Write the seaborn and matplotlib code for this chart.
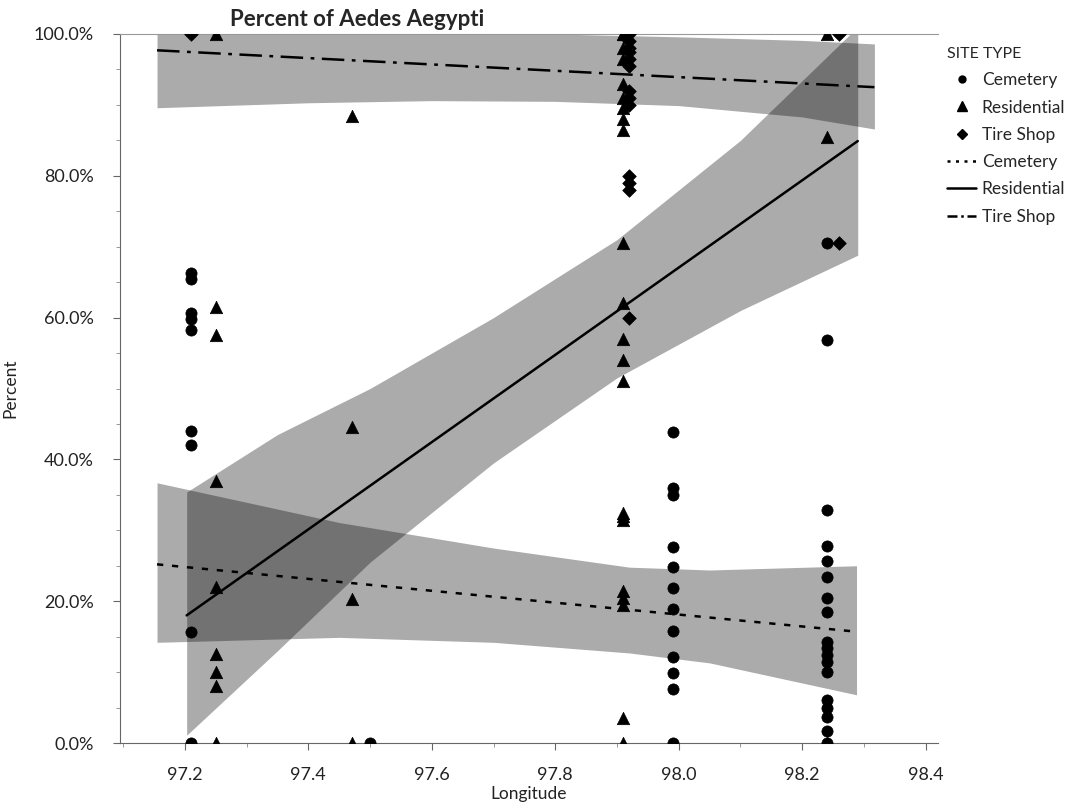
import matplotlib
matplotlib.use("Agg")
import matplotlib.pyplot as plt
from matplotlib.lines import Line2D
from matplotlib.ticker import MultipleLocator, FuncFormatter
import pandas as pd
import seaborn as sns

# --- scatter data ---
cem_lon = [97.21] * 9 + [97.5] + [97.99] * 12 + [98.24] * 18
cem_pct = [66.3, 65.5, 60.6, 59.8, 58.2, 44.0, 42.0, 15.7, 0.0,
           0.0,
           43.9, 36.0, 35.0, 27.6, 24.8, 21.9, 18.9, 15.8, 12.1, 9.9, 7.6, 0.0,
           70.5, 56.8, 32.8, 27.8, 25.7, 23.4, 20.5, 18.5, 14.2, 13.4, 12.4,
           11.4, 10.0, 6.1, 4.9, 3.7, 1.7, 0.0]

res_lon = [97.25] * 9 + [97.47] * 4 + [97.91] * 22 + [98.24] * 3
res_pct = [100.0, 61.5, 57.5, 37.0, 22.0, 12.5, 10.0, 8.0, 0.0,
           88.5, 44.5, 20.3, 0.0,
           100.0, 100.0, 98.0, 96.5, 93.0, 91.0, 89.5, 88.0, 86.5, 70.5, 62.0,
           57.0, 54.0, 51.0, 32.5, 32.0, 31.5, 21.5, 20.5, 19.5, 3.5, 0.0,
           100.0, 85.5, 0.0]

tire_lon = [97.21] + [97.92] * 13 + [98.26] * 2
tire_pct = [100.0,
            100.0, 99.0, 98.0, 97.5, 96.5, 95.5, 92.0, 91.0, 90.0, 80.0, 79.0, 78.0, 60.0,
            100.0, 70.5]

# --- fitted lines and confidence bands ---
cem_fit_x = [97.155, 98.288]
cem_fit_y = [25.2, 15.7]
res_fit_x = [97.203, 98.29]
res_fit_y = [18.0, 84.9]
tire_fit_x = [97.155, 98.317]
tire_fit_y = [97.7, 92.5]

cem_band_x = [97.155, 97.45, 97.7, 97.92, 98.05, 98.288]
cem_band_lo = [14.2, 14.9, 14.2, 12.7, 11.3, 6.8]
cem_band_hi = [36.7, 31.1, 27.5, 24.8, 24.4, 25.0]

res_band_x = [97.203, 97.35, 97.5, 97.7, 97.9, 98.1, 98.29]
res_band_lo = [1.1, 13.0, 25.5, 39.5, 51.5, 61.0, 68.8]
res_band_hi = [35.4, 43.5, 50.0, 60.0, 71.0, 85.0, 101.0]

tire_band_x = [97.155, 97.4, 97.6, 97.8, 98.0, 98.2, 98.317]
tire_band_lo = [89.6, 90.3, 90.6, 90.5, 89.9, 88.3, 86.6]
tire_band_hi = [106.0, 103.0, 101.0, 100.0, 99.6, 99.1, 98.6]

sites = ["Cemetery", "Residential", "Tire Shop"]

df = pd.concat([
    pd.DataFrame({"Longitude": cem_lon, "Percent": cem_pct, "Site": "Cemetery"}),
    pd.DataFrame({"Longitude": res_lon, "Percent": res_pct, "Site": "Residential"}),
    pd.DataFrame({"Longitude": tire_lon, "Percent": tire_pct, "Site": "Tire Shop"}),
], ignore_index=True)

fits = pd.concat([
    pd.DataFrame({"Longitude": cem_fit_x, "Percent": cem_fit_y, "Site": "Cemetery"}),
    pd.DataFrame({"Longitude": res_fit_x, "Percent": res_fit_y, "Site": "Residential"}),
    pd.DataFrame({"Longitude": tire_fit_x, "Percent": tire_fit_y, "Site": "Tire Shop"}),
], ignore_index=True)

sns.set_style("ticks")
plt.rcParams["font.family"] = ["Lato", "DejaVu Sans"]

fig = plt.figure(figsize=(10.72, 8.08), dpi=100)
ax = fig.add_axes([120 / 1072, 1 - 743 / 808, (938 - 120) / 1072, (743 - 34) / 808])

# confidence bands
for bx, lo, hi in [(cem_band_x, cem_band_lo, cem_band_hi),
                   (res_band_x, res_band_lo, res_band_hi),
                   (tire_band_x, tire_band_lo, tire_band_hi)]:
    ax.fill_between(bx, lo, hi, color="black", alpha=0.33, linewidth=0, zorder=1)

# fitted lines
dash_map = {"Cemetery": (2.5, 3.5), "Residential": "", "Tire Shop": (9, 3, 1.5, 3)}
sns.lineplot(data=fits, x="Longitude", y="Percent", style="Site", dashes=dash_map,
             color="black", linewidth=1.8, legend=False, ax=ax, zorder=3)

# points
marker_map = {"Cemetery": ("o", 65), "Residential": ("^", 80), "Tire Shop": ("D", 48)}
for site in sites:
    mk, sz = marker_map[site]
    sns.scatterplot(data=df[df["Site"] == site], x="Longitude", y="Percent",
                    marker=mk, s=sz, color="black", edgecolor="black",
                    linewidth=0.5, legend=False, ax=ax, zorder=4)

ax.set_xlim(97.095, 98.42)
ax.set_ylim(0, 100)
ax.xaxis.set_major_locator(MultipleLocator(0.2))
ax.xaxis.set_minor_locator(MultipleLocator(0.1))
ax.yaxis.set_major_locator(MultipleLocator(20))
ax.yaxis.set_minor_locator(MultipleLocator(5))
ax.xaxis.set_major_formatter(FuncFormatter(lambda v, p: f"{v:.1f}"))
ax.yaxis.set_major_formatter(FuncFormatter(lambda v, p: f"{v:.1f}%"))
ax.tick_params(axis="both", which="major", labelsize=13, length=5, color="#666666",
               labelcolor="#222222")
ax.tick_params(axis="y", which="major", pad=14)
ax.tick_params(axis="x", which="major", pad=12)
ax.tick_params(axis="both", which="minor", length=3, color="#888888")

ax.spines["right"].set_visible(False)
ax.spines["top"].set_color("#999999")
ax.spines["left"].set_color("#666666")
ax.spines["bottom"].set_color("#666666")

ax.set_xlabel("Longitude", fontsize=12.5, color="#222222")
ax.xaxis.set_label_coords(0.5, -(786 - 743) / 709)
ax.set_ylabel("Percent", fontsize=12.5, color="#222222")
ax.yaxis.set_label_coords(-(120 - 18) / 818, 0.5)

fig.text(357 / 1072, 1 - 19 / 808, "Percent of Aedes Aegypti", fontsize=16,
         fontweight="bold", ha="center", va="center")

handles = [
    Line2D([], [], color="black", marker="o", linestyle="", markersize=5),
    Line2D([], [], color="black", marker="^", linestyle="", markersize=7),
    Line2D([], [], color="black", marker="D", linestyle="", markersize=5.5),
    Line2D([], [], color="black", linestyle=(0, (1.2, 2.2)), linewidth=1.8),
    Line2D([], [], color="black", linestyle="-", linewidth=1.8),
    Line2D([], [], color="black", linestyle=(0, (4, 1.5, 1, 1.5)), linewidth=1.8),
]
labels = sites + sites
leg = fig.legend(handles, labels, title="SITE TYPE", loc="upper left",
                 bbox_to_anchor=(940 / 1072, 1 - 40 / 808), frameon=False,
                 fontsize=12.5, title_fontsize=11.5, handlelength=1.7,
                 handletextpad=0.3, labelspacing=0.65, borderaxespad=0)
leg._legend_box.align = "left"

fig.savefig("out.png", dpi=100)
